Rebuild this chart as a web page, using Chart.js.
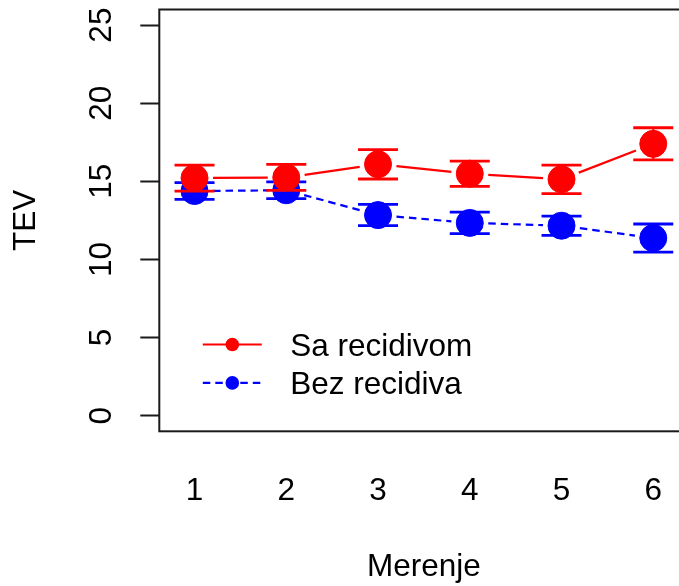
<!DOCTYPE html>
<html>
<head>
<meta charset="utf-8">
<script src="https://cdn.jsdelivr.net/npm/chart.js@4.4.0/dist/chart.umd.min.js"></script>
<style>
  html, body { margin: 0; padding: 0; background: #fff; overflow: hidden; }
  #wrap { width: 679px; height: 586px; overflow: hidden; position: relative; }
  canvas { display: block; position: absolute; left: 0; top: -5px; }
</style>
</head>
<body>
<div id="wrap"><canvas id="c" width="703" height="591"></canvas></div>
<script>
// ---- data ----
const categories = ['1', '2', '3', '4', '5', '6'];
const xPositions = [1, 2, 3, 4, 5, 6];
const seriesNames = ['Sa recidivom', 'Bez recidiva'];
const saMean  = [15.21, 15.25, 16.09, 15.49, 15.13, 17.40];
const saErr   = [0.83, 0.83, 0.94, 0.81, 0.91, 1.03];
const bezMean = [14.38, 14.43, 12.84, 12.34, 12.16, 11.37];
const bezErr  = [0.54, 0.54, 0.68, 0.69, 0.62, 0.90];
const yTickValues = [0, 5, 10, 15, 20, 25];
const xTitle = 'Merenje';
const yTitle = 'TEV';

const FONT = "'Liberation Sans', Arial, sans-serif";
const FS = 31.5;
const GAP = 18.5;

function pts(means) { return xPositions.map((x, i) => ({ x: x, y: means[i] })); }

const rPlugin = {
  id: 'rstyle',
  beforeDatasetDraw(chart, args) {
    const ds = chart.data.datasets[args.index];
    const p = args.meta.data;
    const ctx = chart.ctx;
    ctx.save();
    ctx.strokeStyle = ds.borderColor;
    ctx.lineWidth = 2.2;
    for (let i = 0; i < p.length - 1; i++) {
      const a = p[i], b = p[i + 1];
      const dx = b.x - a.x, dy = b.y - a.y, L = Math.hypot(dx, dy);
      if (L <= 2 * GAP) continue;
      const ux = dx / L, uy = dy / L;
      ctx.setLineDash(ds.rDash || []);
      ctx.beginPath();
      ctx.moveTo(a.x + ux * GAP, a.y + uy * GAP);
      ctx.lineTo(b.x - ux * GAP, b.y - uy * GAP);
      ctx.stroke();
    }
    ctx.restore();
  },
  afterDatasetDraw(chart, args) {
    const ds = chart.data.datasets[args.index];
    const ys = chart.scales.y, xs = chart.scales.x;
    const ctx = chart.ctx;
    ctx.save();
    ctx.strokeStyle = ds.borderColor;
    ds.rMeans.forEach((m, i) => {
      const x = xs.getPixelForValue(xPositions[i]);
      const yt = ys.getPixelForValue(m + ds.rErr[i]);
      const yb = ys.getPixelForValue(m - ds.rErr[i]);
      ctx.lineWidth = 2;
      ctx.beginPath(); ctx.moveTo(x, yt); ctx.lineTo(x, yb); ctx.stroke();
      ctx.lineWidth = 2.8;
      ctx.beginPath();
      ctx.moveTo(x - 20, yt); ctx.lineTo(x + 20, yt);
      ctx.moveTo(x - 20, yb); ctx.lineTo(x + 20, yb);
      ctx.stroke();
    });
    ctx.restore();
  },
  afterDraw(chart) {
    const ctx = chart.ctx, a = chart.chartArea;
    ctx.save();
    // box
    ctx.strokeStyle = '#1a1a1a';
    ctx.lineWidth = 2;
    ctx.strokeRect(a.left, a.top, a.right - a.left, a.bottom - a.top);
    // legend
    chart.data.datasets.forEach((ds, i) => {
      const y = a.top + 335 + i * 38.4;
      const x0 = a.left + 43.5, x1 = a.left + 102.5, xd = a.left + 73;
      ctx.strokeStyle = ds.borderColor;
      ctx.lineWidth = 2.2;
      ctx.setLineDash(ds.rDash || []);
      ctx.beginPath(); ctx.moveTo(x0, y); ctx.lineTo(x1, y); ctx.stroke();
      ctx.setLineDash([]);
      ctx.fillStyle = ds.backgroundColor;
      ctx.beginPath(); ctx.arc(xd, y, 6.8, 0, Math.PI * 2); ctx.fill();
      ctx.fillStyle = '#000';
      ctx.font = FS + 'px ' + FONT;
      ctx.textAlign = 'left';
      ctx.textBaseline = 'middle';
      ctx.fillText(ds.label, a.left + 131, y + 2.5);
    });
    ctx.restore();
  }
};

new Chart(document.getElementById('c'), {
  type: 'line',
  data: {
    datasets: [
      { label: seriesNames[0], data: pts(saMean), rMeans: saMean, rErr: saErr, rDash: [],
        borderColor: '#ff0000', backgroundColor: '#ff0000', showLine: false,
        pointRadius: 13.5, pointBorderWidth: 1, pointBackgroundColor: '#ff0000', pointBorderColor: '#ff0000' },
      { label: seriesNames[1], data: pts(bezMean), rMeans: bezMean, rErr: bezErr, rDash: [7.5, 5],
        borderColor: '#0000ff', backgroundColor: '#0000ff', showLine: false,
        pointRadius: 13.5, pointBorderWidth: 1, pointBackgroundColor: '#0000ff', pointBorderColor: '#0000ff' }
    ]
  },
  options: {
    responsive: false,
    animation: false,
    devicePixelRatio: 1,
    events: [],
    layout: { padding: { top: 14.4, right: 14.5, bottom: 0, left: 0 } },
    plugins: { legend: { display: false }, tooltip: { enabled: false } },
    scales: {
      x: {
        type: 'linear', min: 0.616, max: 6.384,
        afterBuildTicks(s) { s.ticks = xPositions.map(v => ({ value: v })); },
        afterFit(s) { s.height = 154.7; s.paddingLeft = 0; s.paddingRight = 0; },
        grid: { display: false, drawTicks: false },
        border: { display: false },
        ticks: { autoSkip: false, maxRotation: 0, minRotation: 0, padding: 41,
          color: '#000', font: { family: FONT, size: FS },
          callback: (v) => categories[xPositions.indexOf(v)] },
        title: { display: true, text: xTitle, color: '#000', font: { family: FONT, size: FS }, padding: { top: 0, bottom: 0 } }
      },
      y: {
        type: 'linear', min: -1, max: 26,
        afterBuildTicks(s) { s.ticks = yTickValues.map(v => ({ value: v })); },
        afterFit(s) { s.width = 159.3; s.paddingTop = 0; s.paddingBottom = 0; },
        grid: { display: true, drawOnChartArea: false, drawTicks: true, tickLength: 19, tickWidth: 2, tickColor: '#1a1a1a' },
        border: { display: false },
        ticks: { minRotation: 90, maxRotation: 90, crossAlign: 'center', padding: 20,
          color: '#000', font: { family: FONT, size: FS } },
        title: { display: true, text: yTitle, color: '#000', font: { family: FONT, size: FS }, padding: { top: 7.5, bottom: 0 } }
      }
    }
  },
  plugins: [rPlugin]
});
</script>
</body>
</html>
